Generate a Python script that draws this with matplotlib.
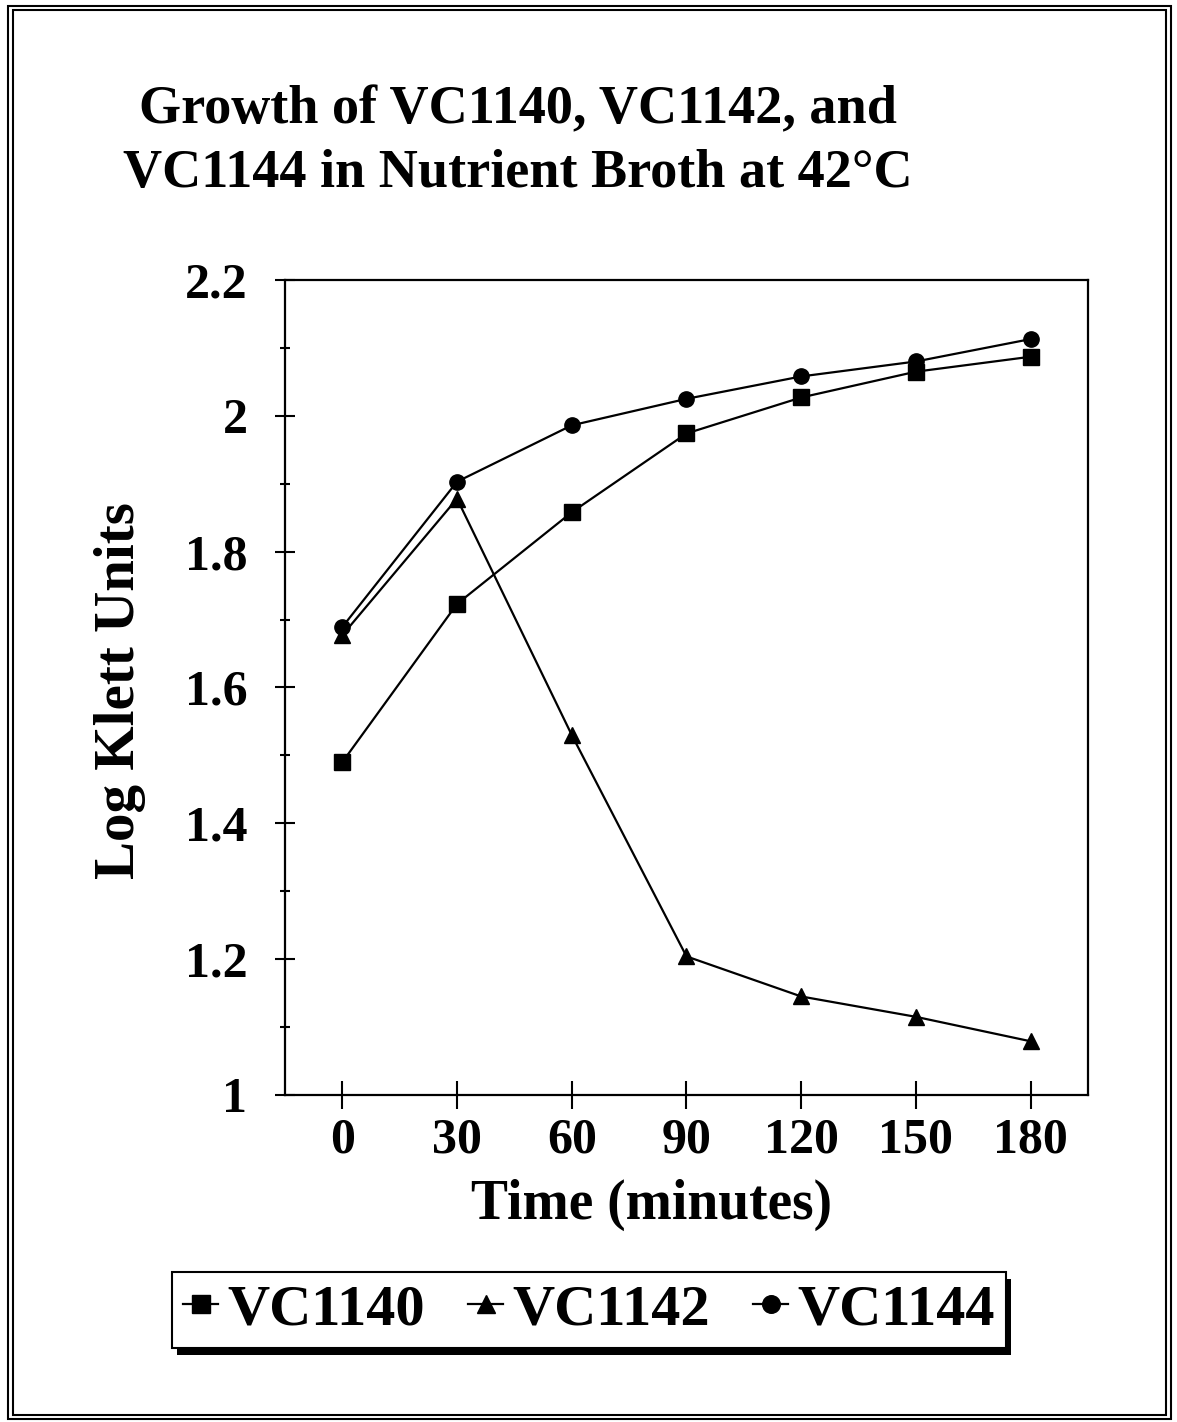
import matplotlib.pyplot as plt
from matplotlib.patches import Rectangle
from matplotlib.ticker import MultipleLocator

# --- Data ---
time_min = [0, 30, 60, 90, 120, 150, 180]
vc1140 = [1.49, 1.723, 1.858, 1.974, 2.027, 2.065, 2.087]
vc1142 = [1.677, 1.878, 1.530, 1.204, 1.145, 1.115, 1.079]
vc1144 = [1.689, 1.903, 1.986, 2.025, 2.058, 2.080, 2.113]
y_ticks = [1.0, 1.2, 1.4, 1.6, 1.8, 2.0, 2.2]
y_tick_labels = ['1', '1.2', '1.4', '1.6', '1.8', '2', '2.2']

plt.rcParams['font.family'] = ['Liberation Serif', 'DejaVu Serif']
plt.rcParams['font.weight'] = 'bold'
plt.rcParams['axes.labelweight'] = 'bold'

fig = plt.figure(figsize=(11.77, 14.22), dpi=100)
ax = fig.add_axes([0.2421, 0.2300, 0.6823, 0.5731])

# --- Series ---
style = dict(color='black', linewidth=1.6, markersize=11)
ax.plot(time_min, vc1140, marker='s', label='VC1140', **style)
ax.plot(time_min, vc1142, marker='^', label='VC1142', **style)
ax.plot(time_min, vc1144, marker='o', label='VC1144', **style)

# --- Axes ---
ax.set_xlim(-15, 195)
ax.set_ylim(1.0, 2.2)
ax.set_xticks(time_min)
ax.set_yticks(y_ticks)
ax.set_yticklabels(y_tick_labels)
ax.yaxis.set_minor_locator(MultipleLocator(0.1))
ax.tick_params(axis='x', which='major', direction='inout', length=20, width=1.5,
               labelsize=36, pad=6)
ax.tick_params(axis='y', which='major', direction='inout', length=14, width=1.5,
               labelsize=36, pad=20)
ax.tick_params(axis='y', which='minor', direction='inout', length=6.5, width=1.5)
for s in ax.spines.values():
    s.set_linewidth(1.6)

ax.set_xlabel('Time (minutes)', fontsize=40, fontweight='bold')
ax.xaxis.label.set_va('center')
ax.xaxis.set_label_coords(0.456, -0.135)
ax.set_ylabel('Log Klett Units', fontsize=41, fontweight='bold')
ax.yaxis.label.set_va('center')
ax.yaxis.set_label_coords(-0.206, 0.496)

fig.text(0.44, 0.8998, 'Growth of VC1140, VC1142, and\nVC1144 in Nutrient Broth at 42\u00b0C',
         ha='center', va='center', fontsize=39, fontweight='bold', linespacing=1.35)

# --- Legend ---
leg = fig.legend(loc='center', bbox_to_anchor=(0.5004, 0.0788), ncol=3,
                 fontsize=42, frameon=True, fancybox=False, markerscale=1.15,
                 handlelength=0.6, handletextpad=0.15, columnspacing=0.75,
                 borderpad=0.2, borderaxespad=0, edgecolor='black',
                 facecolor='white', framealpha=1)
leg.get_frame().set_linewidth(1.5)
leg.set_zorder(5)

# solid black drop shadow behind the legend box
fig.canvas.draw()
bb = leg.get_window_extent().transformed(fig.transFigure.inverted())
dx, dy = 5 / 1177, 7 / 1422
fig.patches.append(Rectangle((bb.x0 + dx, bb.y0 - dy), bb.width, bb.height,
                             transform=fig.transFigure, facecolor='black',
                             edgecolor='none', zorder=4))

# --- Double border around the figure ---
fig.patches.append(Rectangle((0.007, 0.002), 0.988, 0.994, transform=fig.transFigure,
                             fill=False, edgecolor='black', linewidth=1.5))
fig.patches.append(Rectangle((0.011, 0.005), 0.980, 0.988, transform=fig.transFigure,
                             fill=False, edgecolor='black', linewidth=1.5))

fig.savefig('out.png', dpi=100)
